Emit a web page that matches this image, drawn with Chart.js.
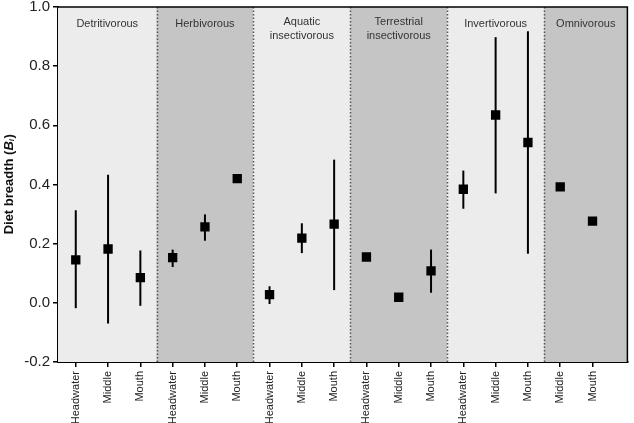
<!DOCTYPE html>
<html>
<head>
<meta charset="utf-8">
<script src="https://cdn.jsdelivr.net/npm/chart.js@4.4.0/dist/chart.umd.min.js"></script>
<style>
  html, body { margin: 0; padding: 0; background: #fff; }
  #wrap { width: 634px; height: 423px; }
</style>
</head>
<body>
<div id="wrap"><canvas id="chart" width="634" height="423"></canvas></div>
<script>
// stream position of each sample, in plotting order
const categories = ['Headwater', 'Middle', 'Mouth',
  'Headwater', 'Middle', 'Mouth',
  'Headwater', 'Middle', 'Mouth',
  'Headwater', 'Middle', 'Mouth',
  'Headwater', 'Middle', 'Mouth',
  'Middle', 'Mouth'];

// diet breadth (Bi): mean and range (null = no bar drawn)
const meanB = [0.145, 0.182, 0.085, 0.153, 0.257, 0.420, 0.028, 0.219, 0.266, 0.155, 0.019, 0.108, 0.384, 0.635, 0.542, 0.392, 0.276];
const lowB  = [-0.018, -0.070, -0.010, 0.121, 0.210, null, -0.004, 0.168, 0.043, null, null, 0.034, 0.318, 0.370, 0.166, null, null];
const highB = [0.313, 0.433, 0.177, 0.180, 0.299, null, 0.056, 0.269, 0.484, null, null, 0.180, 0.447, 0.898, 0.918, null, null];

// trophic guilds and the category index range they cover
const groups = [['Detritivorous'], ['Herbivorous'], ['Aquatic', 'insectivorous'],
  ['Terrestrial', 'insectivorous'], ['Invertivorous'], ['Omnivorous']];
const groupFirst = [0, 3, 6, 9, 12, 15];
const groupLast = [2, 5, 8, 11, 14, 16];

const yTicks = [-0.2, 0.0, 0.2, 0.4, 0.6, 0.8, 1.0];

const FONT = "'Liberation Sans', Arial, sans-serif";

const bandsPlugin = {
  id: 'bands',
  beforeDatasetsDraw(chart) {
    const { ctx, chartArea, scales: { x } } = chart;
    ctx.save();
    groups.forEach((g, i) => {
      const left = i === 0 ? chartArea.left : x.getPixelForValue(groupFirst[i] - 0.5);
      const right = i === groups.length - 1 ? chartArea.right : x.getPixelForValue(groupLast[i] + 0.5);
      ctx.fillStyle = i % 2 === 0 ? '#ececec' : '#c5c5c5';
      ctx.fillRect(left, chartArea.top, right - left, chartArea.bottom - chartArea.top);
    });
    // dotted separators
    ctx.strokeStyle = '#555';
    ctx.lineWidth = 1.5;
    ctx.setLineDash([1.5, 2]);
    for (let i = 1; i < groups.length; i++) {
      const px = Math.round(x.getPixelForValue(groupFirst[i] - 0.5)) + 0.5;
      ctx.beginPath();
      ctx.moveTo(px, chartArea.top);
      ctx.lineTo(px, chartArea.bottom);
      ctx.stroke();
    }
    ctx.setLineDash([]);
    // group names
    ctx.fillStyle = '#333';
    ctx.font = '11px ' + FONT;
    ctx.textAlign = 'center';
    ctx.textBaseline = 'middle';
    groups.forEach((g, i) => {
      const left = i === 0 ? chartArea.left : x.getPixelForValue(groupFirst[i] - 0.5);
      const right = i === groups.length - 1 ? chartArea.right : x.getPixelForValue(groupLast[i] + 0.5);
      const cx = (left + right) / 2;
      if (g.length === 1) {
        ctx.fillText(g[0], cx, chartArea.top + 17);
      } else {
        ctx.fillText(g[0], cx, chartArea.top + 15);
        ctx.fillText(g[1], cx, chartArea.top + 29);
      }
    });
    // error bars
    const y = chart.scales.y;
    ctx.strokeStyle = '#000';
    ctx.lineWidth = 2;
    meanB.forEach((m, i) => {
      if (lowB[i] === null) return;
      const px = x.getPixelForValue(i);
      ctx.beginPath();
      ctx.moveTo(px, y.getPixelForValue(lowB[i]));
      ctx.lineTo(px, y.getPixelForValue(highB[i]));
      ctx.stroke();
    });
    ctx.restore();
  },
  afterDraw(chart) {
    const { ctx, chartArea } = chart;
    ctx.save();
    ctx.strokeStyle = '#000';
    ctx.lineWidth = 1.5;
    ctx.beginPath();
    ctx.moveTo(chartArea.left, chartArea.top);
    ctx.lineTo(chartArea.right, chartArea.top);
    ctx.lineTo(chartArea.right, chartArea.bottom);
    ctx.stroke();
    // y axis title: Diet breadth (Bi)
    ctx.translate(9, (chartArea.top + chartArea.bottom) / 2);
    ctx.rotate(-Math.PI / 2);
    ctx.fillStyle = '#111';
    ctx.textBaseline = 'middle';
    ctx.textAlign = 'left';
    const partA = 'Diet breadth (';
    const partB = 'B';
    const partC = 'i';
    const partD = ')';
    ctx.font = 'bold 13px ' + FONT;
    const wA = ctx.measureText(partA).width;
    const wD = ctx.measureText(partD).width;
    ctx.font = 'italic bold 13px ' + FONT;
    const wB = ctx.measureText(partB).width;
    ctx.font = 'italic bold 8px ' + FONT;
    const wC = ctx.measureText(partC).width;
    let cx = -(wA + wB + wC + wD) / 2;
    ctx.font = 'bold 13px ' + FONT;
    ctx.fillText(partA, cx, 0); cx += wA;
    ctx.font = 'italic bold 13px ' + FONT;
    ctx.fillText(partB, cx, 0); cx += wB;
    ctx.font = 'italic bold 8px ' + FONT;
    ctx.fillText(partC, cx, 3); cx += wC + 0.5;
    ctx.font = 'bold 13px ' + FONT;
    ctx.fillText(partD, cx, 0);
    ctx.restore();
  }
};

const ctx = document.getElementById('chart').getContext('2d');
new Chart(ctx, {
  type: 'scatter',
  data: {
    datasets: [{
      data: meanB.map((v, i) => ({ x: i, y: v })),
      pointStyle: 'rect',
      pointRadius: 6.6,
      pointHoverRadius: 6.6,
      backgroundColor: '#000',
      borderColor: '#000',
      borderWidth: 0
    }]
  },
  options: {
    responsive: false,
    animation: false,
    layout: { padding: { left: 0, top: 0, right: 4, bottom: 0 } },
    plugins: { legend: { display: false }, tooltip: { enabled: false } },
    scales: {
      x: {
        type: 'linear',
        min: -0.55,
        max: 17.08,
        afterBuildTicks(axis) {
          axis.ticks = categories.map((c, i) => ({ value: i }));
        },
        afterFit(axis) { axis.height = 61; },
        ticks: {
          autoSkip: false,
          minRotation: 90,
          maxRotation: 90,
          padding: 4,
          color: '#222',
          font: { family: FONT, size: 11 },
          callback: (v) => categories[v]
        },
        grid: { display: true, drawOnChartArea: false, tickLength: 5, color: '#000', lineWidth: 1.5 },
        border: { display: true, color: '#000', width: 2 }
      },
      y: {
        min: -0.2,
        max: 1.0,
        afterBuildTicks(axis) {
          axis.ticks = yTicks.map(v => ({ value: v }));
        },
        afterFit(axis) { axis.width = 58; axis.paddingTop = 7; axis.paddingBottom = 0; },
        ticks: {
          padding: 3,
          color: '#222',
          font: { family: FONT, size: 15 },
          callback: (v) => v.toFixed(1)
        },
        grid: { display: true, drawOnChartArea: false, tickLength: 5, color: '#000', lineWidth: 1.5 },
        border: { display: true, color: '#000', width: 2 }
      }
    }
  },
  plugins: [bandsPlugin]
});
</script>
</body>
</html>
